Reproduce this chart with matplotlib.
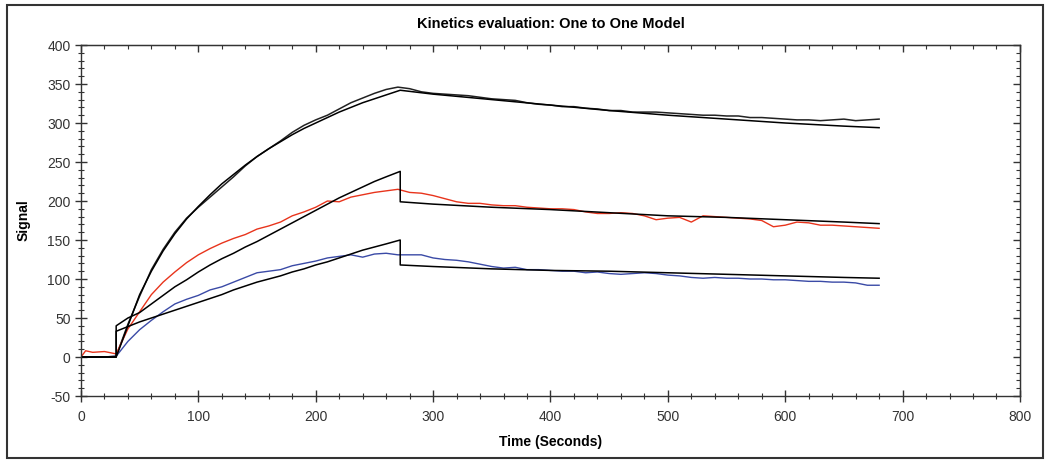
import matplotlib.pyplot as plt
from matplotlib.patches import Rectangle
from matplotlib.ticker import MultipleLocator

plt.rcParams['font.family'] = ['Liberation Sans', 'DejaVu Sans']
plt.rcParams['axes.unicode_minus'] = False

# measured curves (sampled times, seconds)
t_data = [0, 4, 10, 20, 30, 40, 50, 60, 70, 80, 90, 100, 110, 120, 130, 140, 150,
          160, 170, 180, 190, 200, 210, 220, 230, 240, 250, 260, 270, 280, 290, 300,
          310, 320, 330, 340, 350, 360, 370, 380, 390, 400, 410, 420, 430, 440, 450,
          460, 470, 480, 490, 500, 510, 520, 530, 540, 550, 560, 570, 580, 590, 600,
          610, 620, 630, 640, 650, 660, 670, 680]

black_data = [0, 0, 0, 0, 1, 42, 78, 112, 138, 160, 178, 192, 205, 218, 231, 245, 257,
              267, 277, 288, 297, 304, 310, 318, 326, 332, 338, 343, 346, 344, 340, 338,
              337, 336, 335, 333, 331, 330, 329, 326, 324, 323, 321, 321, 319, 318, 316,
              316, 314, 314, 314, 313, 312, 311, 310, 310, 309, 309, 307, 307, 306, 305,
              304, 304, 303, 304, 305, 303, 304, 305]

red_data = [0, 8, 6, 7, 4, 36, 58, 80, 96, 109, 121, 131, 139, 146, 152, 157, 164,
            168, 173, 181, 186, 192, 200, 199, 205, 208, 211, 213, 215, 211, 210, 207,
            203, 199, 197, 197, 195, 194, 194, 192, 191, 190, 190, 189, 186, 184, 184,
            185, 184, 181, 176, 178, 179, 173, 181, 180, 179, 178, 177, 175, 167, 169,
            173, 172, 169, 169, 168, 167, 166, 165]

blue_data = [0, 0, 0, 0, 1, 20, 35, 47, 58, 68, 74, 79, 86, 90, 96, 102, 108,
             110, 112, 117, 120, 123, 127, 129, 131, 128, 132, 133, 131, 131, 131, 127,
             125, 124, 122, 119, 116, 114, 115, 112, 112, 111, 110, 110, 108, 109, 107,
             106, 107, 108, 107, 105, 104, 102, 101, 102, 101, 101, 100, 100, 99, 99,
             98, 97, 97, 96, 96, 95, 92, 92]

# one to one model fits
t_fit = [0, 30, 30, 40, 50, 60, 70, 80, 90, 100, 110, 120, 130, 140, 150, 160, 170,
         180, 190, 200, 210, 220, 230, 240, 250, 260, 272, 272, 300, 350, 400, 450,
         500, 550, 600, 650, 680]

black_fit = [0, 0, 0, 40, 80, 110, 136, 158, 177, 193, 208, 222, 234, 246, 257, 267, 276,
             285, 293, 300, 307, 314, 320, 326, 331, 336, 342, 342, 337, 330, 323, 316,
             310, 305, 300, 296, 294]

red_fit = [0, 0, 40, 50, 57, 68, 79, 90, 99, 109, 118, 126, 133, 141, 148, 156, 164,
           172, 180, 188, 196, 204, 211, 218, 225, 231, 238, 199, 196, 192, 189, 185,
           181, 179, 176, 173, 171]

blue_fit = [0, 0, 33, 39, 45, 50, 55, 60, 65, 70, 75, 80, 86, 91, 96, 100, 104,
            109, 113, 118, 122, 127, 132, 137, 141, 145, 150, 118, 116, 113, 111, 110,
            108, 106, 104, 102, 101]

fig = plt.figure(figsize=(10.5, 4.63), dpi=100)
ax = fig.add_axes([0.0771, 0.1447, 0.8943, 0.7581])

ax.plot(t_data, black_data, color='#222222', lw=1.1)
ax.plot(t_data, red_data, color='#e8341c', lw=1.0)
ax.plot(t_data, blue_data, color='#3a4aa6', lw=1.0)
ax.plot(t_fit, black_fit, color='black', lw=1.1)
ax.plot(t_fit, red_fit, color='black', lw=1.1)
ax.plot(t_fit, blue_fit, color='black', lw=1.1)

ax.set_xlim(0, 800)
ax.set_ylim(-50, 400)
ax.xaxis.set_major_locator(MultipleLocator(100))
ax.xaxis.set_minor_locator(MultipleLocator(20))
ax.yaxis.set_major_locator(MultipleLocator(50))
ax.yaxis.set_minor_locator(MultipleLocator(10))

for s in ax.spines.values():
    s.set_color('#333333')
    s.set_linewidth(1.0)

ax.tick_params(which='both', colors='#333333', labelsize=10)
ax.tick_params(which='major', direction='inout', length=8, width=1.0)
ax.tick_params(which='minor', direction='inout', length=4, width=0.8)
ax.tick_params(axis='x', which='both', pad=6)

# inward ticks on top and right
top = ax.secondary_xaxis('top')
top.xaxis.set_major_locator(MultipleLocator(100))
top.xaxis.set_minor_locator(MultipleLocator(20))
right = ax.secondary_yaxis('right')
right.yaxis.set_major_locator(MultipleLocator(50))
right.yaxis.set_minor_locator(MultipleLocator(10))
for sec in (top, right):
    sec.tick_params(which='both', direction='in', colors='#333333',
                    labeltop=False, labelright=False)
    sec.tick_params(which='major', length=5, width=1.0)
    sec.tick_params(which='minor', length=3, width=0.8)
    for s in sec.spines.values():
        s.set_color('#333333')

ax.set_title('Kinetics evaluation: One to One Model', fontsize=10.5,
             fontweight='bold', pad=12)
ax.set_xlabel('Time (Seconds)', fontsize=10, fontweight='bold', labelpad=8)
ax.set_ylabel('Signal', fontsize=10, fontweight='bold', labelpad=12)

fig.patches.append(Rectangle((7 / 1050, 5 / 463), 1036 / 1050, 453 / 463,
                             transform=fig.transFigure, fill=False,
                             edgecolor='#333333', lw=1.5))

fig.savefig('out.png', dpi=100)
